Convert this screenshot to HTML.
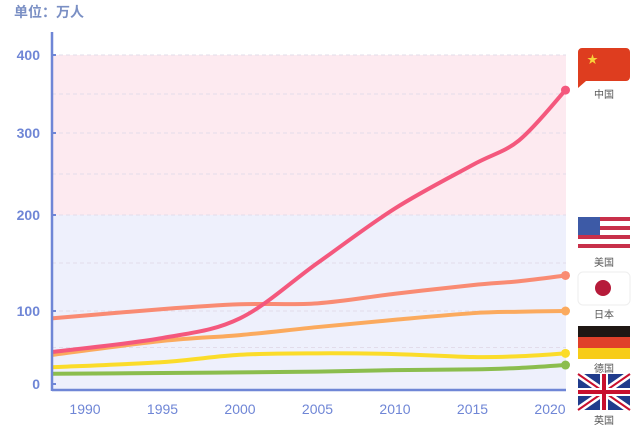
<!DOCTYPE html>
<html><head><meta charset="utf-8">
<style>
html,body{margin:0;padding:0;background:#fff;width:640px;height:432px;overflow:hidden}
svg text{font-family:"Liberation Sans","Noto Sans CJK SC",sans-serif}
</style></head>
<body>
<svg id="chart" width="640" height="432">
  <text x="14" y="17" font-size="14" font-weight="bold" fill="#7a8fc4">单位：万人</text>
  <g id="bg"></g>
  <g id="grid"></g>
  <g id="lines"></g>
  <g id="axes"></g>
  <g id="flags"></g>
</svg>
<script>
const years = [1988, 1995, 2000, 2005, 2010, 2015, 2018, 2021];
const china = [44, 63, 90, 150, 208, 261, 291, 355];
const usa = [90, 102, 107, 108, 118, 127, 131, 137];
const japan = [40, 59, 67, 78, 88, 97, 99, 100];
const germany = [23, 30, 40, 42, 41, 37, 38, 42];
const uk = [14, 15, 16, 17, 19, 20, 22, 26];
const yTicks = [0, 100, 200, 300, 400];
const xTicks = [1990, 1995, 2000, 2005, 2010, 2015, 2020];
const seriesNames = ['uk', 'germany', 'japan', 'usa', 'china'];

const NS = 'http://www.w3.org/2000/svg';
function mk(tag, attrs, parent){const e=document.createElementNS(NS,tag);for(const k in attrs)e.setAttribute(k,attrs[k]);parent.appendChild(e);return e;}
const yStops=[0,100,200,300,400], yPix=[384,311,215,133,55];
function yS(v){for(let i=0;i<yStops.length-1;i++){if(v<=yStops[i+1]||i===yStops.length-2){const t=(v-yStops[i])/(yStops[i+1]-yStops[i]);return yPix[i]+t*(yPix[i+1]-yPix[i]);}}}
function xS(yr){return 85+(yr-1990)*15.5;}
const X0=52,X1=566,YB=390;

const bg=document.getElementById('bg');
let r=mk('rect',{x:X0,y:yS(400),width:X1-X0,height:yS(200)-yS(400),fill:'#fdeaf0'},bg);

r=mk('rect',{x:X0,y:yS(200),width:X1-X0,height:YB-yS(200),fill:'#eef0fc'},bg);


const grid=document.getElementById('grid');
[50,150,250,350,100,200,300,400].forEach(v=>{const l=mk('line',{x1:X0,x2:X1,y1:yS(v),y2:yS(v),stroke:'#e2dcea','stroke-dasharray':'4 3','stroke-width':1},grid);
});

const axes=document.getElementById('axes');
let a=mk('line',{x1:X0,x2:X0,y1:32,y2:YB+1,stroke:'#6f86d6','stroke-width':2.5},axes);

a=mk('line',{x1:X0,x2:X1,y1:YB,y2:YB,stroke:'#6f86d6','stroke-width':2.5},axes);

yTicks.forEach(v=>{const y=yS(v);mk('line',{x1:X0,x2:X0+4,y1:y,y2:y,stroke:'#6f86d6','stroke-width':2},axes);
const t=mk('text',{x:40,y:y+5,'text-anchor':'end','font-size':14,'font-weight':'bold',fill:'#6f86d6'},axes);t.textContent=v;
});
xTicks.forEach(v=>{const t=mk('text',{x:xS(v),y:414,'text-anchor':'middle','font-size':14,fill:'#6f86d6'},axes);t.textContent=v;
});

function path(vals){const p=years.map((y,i)=>[xS(y),yS(vals[i])]);p[0][0]=X0+1;
let d='M'+p[0][0]+','+p[0][1];
for(let i=0;i<p.length-1;i++){const p0=p[i-1]||p[i],p1=p[i],p2=p[i+1],p3=p[i+2]||p2;
const c1=[p1[0]+(p2[0]-p0[0])/6,p1[1]+(p2[1]-p0[1])/6],c2=[p2[0]-(p3[0]-p1[0])/6,p2[1]-(p3[1]-p1[1])/6];
d+=' C'+c1+' '+c2+' '+p2;}return {d,last:p[p.length-1]};}
const lines=document.getElementById('lines');
const data={china,usa,japan,germany,uk};
const colors={china:'#f4587d',usa:'#f98b73',japan:'#fbaa5e',germany:'#fbdc2a',uk:'#8bbd4e'};
seriesNames.forEach(n=>{const r=path(data[n]);
const l=mk('path',{d:r.d,fill:'none',stroke:colors[n],'stroke-width':4,'stroke-linecap':'round'},lines);

const c=mk('circle',{cx:r.last[0],cy:r.last[1],r:4.5,fill:colors[n]},lines);
});
</script>
<svg width="640" height="432" style="position:absolute;left:0;top:0">
  <g>
    <path d="M584,48 h42 a4,4 0 0 1 4,4 v25 a4,4 0 0 1 -4,4 h-40 l-8,7 v-36 a4,4 0 0 1 4,-4z" fill="#de3d1f"/>
    <text x="587" y="63" font-size="11" fill="#f8d23a">★</text>
    <text x="604" y="98" text-anchor="middle" font-size="10" fill="#555">中国</text>
  </g>
  <g>
    <rect x="578" y="217" width="52" height="33" rx="4" fill="#fff"/>
    <rect x="578" y="217" width="52" height="4" fill="#c8304a"/><rect x="578" y="226" width="52" height="4" fill="#c8304a"/>
    <rect x="578" y="235" width="52" height="4" fill="#c8304a"/><rect x="578" y="244" width="52" height="4" fill="#c8304a"/>
    <rect x="578" y="217" width="22" height="18" fill="#3d5aa6"/>
    <text x="604" y="266" text-anchor="middle" font-size="10" fill="#555">美国</text>
  </g>
  <g>
    <rect x="578" y="272" width="52" height="33" rx="5" fill="#fff" stroke="#eee"/>
    <circle cx="603" cy="288" r="8" fill="#b61b3a"/>
    <text x="604" y="318" text-anchor="middle" font-size="10" fill="#555">日本</text>
  </g>
  <g>
    <rect x="578" y="326" width="52" height="11" fill="#1f1714"/>
    <rect x="578" y="337" width="52" height="11" fill="#e0402a"/>
    <rect x="578" y="348" width="52" height="11" fill="#f7cc18"/>
    <text x="604" y="372" text-anchor="middle" font-size="10" fill="#555">德国</text>
  </g>
  <g>
    <rect x="578" y="374" width="52" height="36" fill="#203c8c"/>
    <path d="M578,374 L630,410 M630,374 L578,410" stroke="#fff" stroke-width="7"/>
    <path d="M578,374 L630,410 M630,374 L578,410" stroke="#c8102e" stroke-width="2"/>
    <rect x="600" y="374" width="8" height="36" fill="#fff"/><rect x="578" y="388" width="52" height="8" fill="#fff"/>
    <rect x="602" y="374" width="4" height="36" fill="#c8102e"/><rect x="578" y="390" width="52" height="4" fill="#c8102e"/>
    <text x="604" y="424" text-anchor="middle" font-size="10" fill="#555">英国</text>
  </g>
</svg>
</body></html>
